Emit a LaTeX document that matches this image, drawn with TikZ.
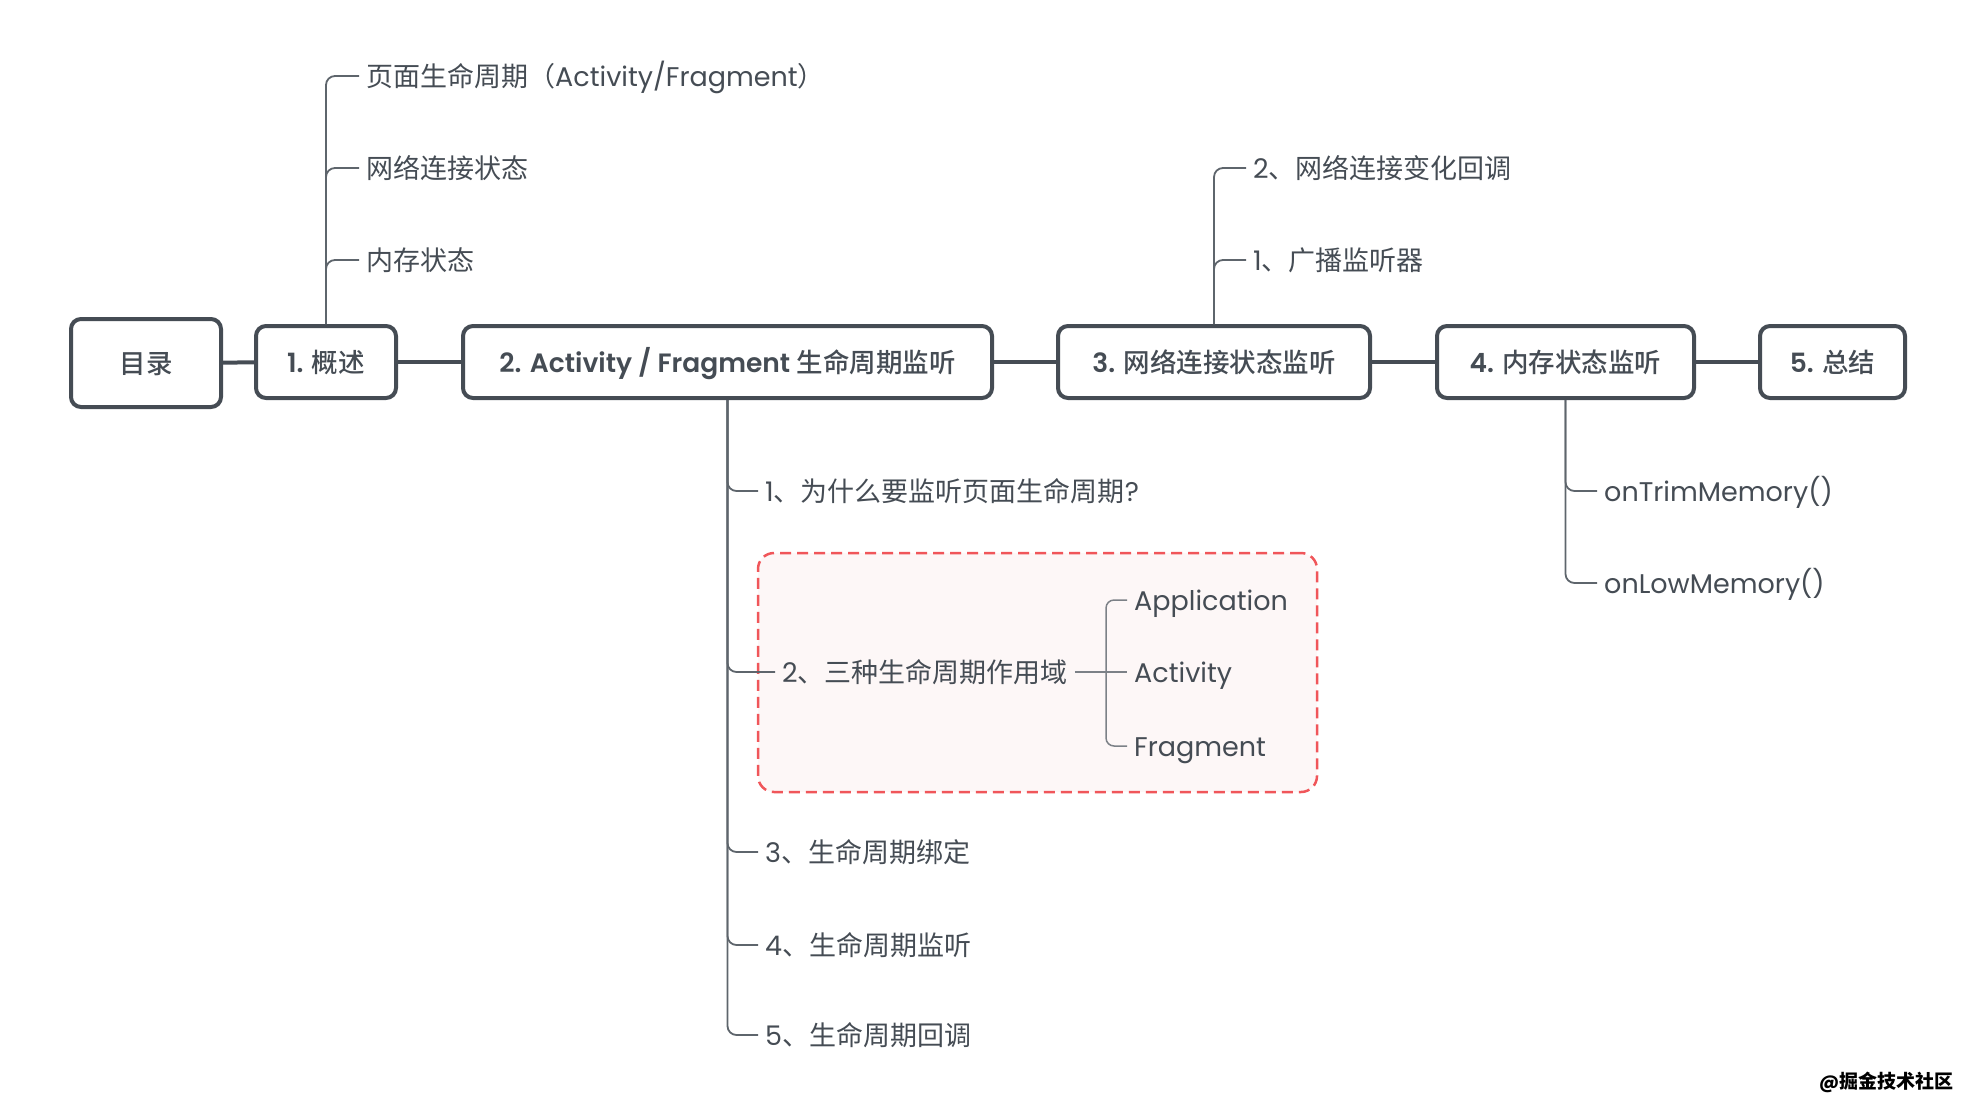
\documentclass[tikz,border=0pt]{standalone}
\usepackage{fontspec}
\setmainfont{Noto Sans CJK SC}
\newfontfamily\ltr{Poppins}
\newfontfamily\ltm{Poppins SemiBold}
\newfontfamily\cjkm{Noto Sans CJK SC Medium}
\newcommand\lt{\ltr}
\definecolor{ink}{HTML}{454C54}
\definecolor{linec}{HTML}{5E656C}
\definecolor{subc}{HTML}{7C8187}
\definecolor{redd}{HTML}{F0565A}
\definecolor{pinkf}{HTML}{FDF7F7}
\newcommand\boxfont{\fontsize{26.5pt}{30pt}\cjkm\let\lt\ltm}
\newcommand\leaffont{\fontsize{27pt}{32pt}\selectfont}
\begin{document}
\begin{tikzpicture}[x=1pt,y=-1pt,
  box/.style={draw=ink, line width=4pt, rounded corners=10pt, fill=white, minimum height=72pt, inner sep=0pt, font=\boxfont, text=ink, text height=23pt, text depth=3pt},
  conn/.style={draw=ink, line width=4pt},
  leaf/.style={anchor=west, inner xsep=7pt, inner ysep=0pt, font=\leaffont, text=ink, text height=24pt, text depth=3.3pt},
  branch/.style={draw=linec, line width=1.8pt, rounded corners=9pt},
  sub/.style={draw=subc, line width=1.5pt, rounded corners=8pt},
  grpbox/.style={draw=redd, line width=2.5pt, dash pattern=on 11pt off 6pt, fill=pinkf, rounded corners=16pt, inner sep=0pt},
]
\path[use as bounding box] (0,0) rectangle (1980,1114);

% group highlight
\node[grpbox, minimum width=559pt, minimum height=239pt] (grp) at (1037.5,672.5) {};

% main boxes
\node[box, minimum width=150pt, minimum height=88pt] (b0) at (146,363) {目录};
\node[box, minimum width=140pt] (b1) at (326,362) {{\lt 1. }概述};
\node[box, minimum width=529pt] (b2) at (727.5,362) {{\lt 2. Activity / Fragment }生命周期监听};
\node[box, minimum width=312pt] (b3) at (1214,362) {{\lt 3. }网络连接状态监听};
\node[box, minimum width=257pt] (b4) at (1565.5,362) {{\lt 4. }内存状态监听};
\node[box, minimum width=145pt] (b5) at (1832.5,362) {{\lt 5. }总结};

\draw[conn] (b0) -- (b1);
\draw[conn] (b1) -- (b2);
\draw[conn] (b2) -- (b3);
\draw[conn] (b3) -- (b4);
\draw[conn] (b4) -- (b5);

% 1. overview children
\node[leaf] (l11) at (359,76) {页面生命周期（{\lt Activity/Fragment}）};
\node[leaf] (l12) at (359,168) {网络连接状态};
\node[leaf] (l13) at (359,260) {内存状态};
\draw[branch] (b1.north) |- (l11.west);
\draw[branch] (b1.north) |- (l12.west);
\draw[branch] (b1.north) |- (l13.west);

% 3. network children
\node[leaf] (l31) at (1246,168) {{\lt 2}、网络连接变化回调};
\node[leaf] (l32) at (1246,260) {{\lt 1}、广播监听器};
\draw[branch] (b3.north) |- (l31.west);
\draw[branch] (b3.north) |- (l32.west);

% 2. lifecycle children
\node[leaf] (l21) at (758,491) {{\lt 1}、为什么要监听页面生命周期{\lt ?}};
\node[leaf] (l22) at (775,672) {{\lt 2}、三种生命周期作用域};
\node[leaf] (l23) at (758,852) {{\lt 3}、生命周期绑定};
\node[leaf] (l24) at (758,945) {{\lt 4}、生命周期监听};
\node[leaf] (l25) at (758,1035) {{\lt 5}、生命周期回调};
\draw[branch] (b2.south) |- (l21.west);
\draw[branch] (b2.south) |- (l22.west);
\draw[branch] (b2.south) |- (l23.west);
\draw[branch] (b2.south) |- (l24.west);
\draw[branch] (b2.south) |- (l25.west);

% scopes
\node[leaf] (app) at (1127,600) {{\lt Application}};
\node[leaf] (act) at (1127,672) {{\lt Activity}};
\node[leaf] (frag) at (1127,746) {{\lt Fragment}};
\coordinate (j) at (1106,672);
\draw[sub] (l22.east) -- (act.west);
\draw[sub] (j) |- (app.west);
\draw[sub] (j) |- (frag.west);

% 4. memory children
\node[leaf] (m1) at (1597,491) {{\lt onTrimMemory()}};
\node[leaf] (m2) at (1597,583) {{\lt onLowMemory()}};
\draw[branch] (b4.south) |- (m1.west);
\draw[branch] (b4.south) |- (m2.west);

% watermark
\node[font=\fontsize{19pt}{21pt}\selectfont\bfseries, text=black, inner sep=0pt] (wm) at (1886,1082) {{\lt @}掘金技术社区};
\end{tikzpicture}
\end{document}
